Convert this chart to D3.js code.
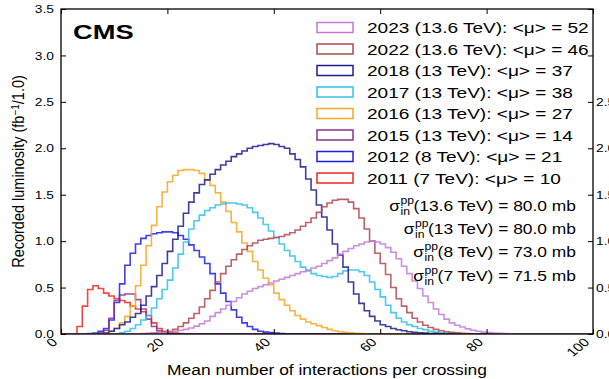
<!DOCTYPE html>
<html>
<head>
<meta charset="utf-8">
<script src="https://cdn.jsdelivr.net/npm/d3@7"></script>
<style>
    body { margin: 0; background: #fff; }
    text { font-family: "Liberation Sans", Arial, Helvetica, sans-serif; fill: #000; }
</style>
</head>
<body>
<div id="chart"></div>
<script>
// legend labels, colours and first non-empty bin of every year
const labels = [
    "2023 (13.6 TeV): <μ> = 52",
    "2022 (13.6 TeV): <μ> = 46",
    "2018 (13 TeV): <μ> = 37",
    "2017 (13 TeV): <μ> = 38",
    "2016 (13 TeV): <μ> = 27",
    "2015 (13 TeV): <μ> = 14",
    "2012 (8 TeV): <μ> = 21",
    "2011 (7 TeV): <μ> = 10"
];
const colors = ["#c27ad8", "#b2474c", "#1c1c8e", "#2ec0ec", "#f6a623", "#8a2f8e", "#1d1de6", "#f22424"];
const firstBin = [14, 15, 7, 11, 8, 7, 5, 3];

// recorded luminosity per unit of pileup (fb^-1 / 1.0), one value per bin
const lumi2023 = [0.002, 0.004, 0.006, 0.009, 0.013, 0.018, 0.024, 0.03, 0.04, 0.05,
    0.065, 0.085, 0.11, 0.14, 0.19, 0.23, 0.27, 0.31, 0.35, 0.39,
    0.43, 0.46, 0.49, 0.51, 0.53, 0.55, 0.57, 0.59, 0.61, 0.63,
    0.65, 0.67, 0.69, 0.71, 0.73, 0.76, 0.79, 0.82, 0.86, 0.89,
    0.92, 0.95, 0.97, 0.99, 1.0, 0.99, 0.97, 0.93, 0.88, 0.81,
    0.73, 0.65, 0.57, 0.49, 0.41, 0.34, 0.27, 0.21, 0.16, 0.12,
    0.095, 0.075, 0.055, 0.04, 0.03, 0.02, 0.015, 0.01, 0.007, 0.005,
    0.003, 0.002];
const lumi2022 = [0.003, 0.006, 0.01, 0.015, 0.02, 0.03, 0.05, 0.08, 0.12, 0.17,
    0.22, 0.29, 0.38, 0.47, 0.56, 0.65, 0.73, 0.80, 0.86, 0.91,
    0.95, 0.98, 1.01, 1.02, 1.03, 1.04, 1.05, 1.07, 1.09, 1.12,
    1.16, 1.20, 1.25, 1.31, 1.37, 1.41, 1.44, 1.45, 1.45, 1.42,
    1.35, 1.25, 1.13, 1.00, 0.87, 0.76, 0.64, 0.50, 0.38, 0.30,
    0.23, 0.17, 0.13, 0.095, 0.07, 0.05, 0.035, 0.025, 0.017, 0.012,
    0.008, 0.005, 0.003];
const lumi2018 = [0.005, 0.01, 0.03, 0.06, 0.10, 0.13, 0.18, 0.22, 0.31, 0.41,
    0.51, 0.63, 0.76, 0.89, 1.02, 1.16, 1.30, 1.42, 1.52, 1.61,
    1.66, 1.72, 1.77, 1.82, 1.86, 1.91, 1.94, 1.97, 2.00, 2.02,
    2.03, 2.04, 2.05, 2.04, 2.02, 2.00, 1.94, 1.88, 1.80, 1.67,
    1.55, 1.39, 1.26, 1.12, 0.97, 0.85, 0.72, 0.56, 0.43, 0.33,
    0.25, 0.19, 0.14, 0.10, 0.08, 0.06, 0.045, 0.035, 0.025, 0.018,
    0.013, 0.009, 0.006, 0.004, 0.002];
const lumi2017 = [0.015, 0.03, 0.06, 0.10, 0.15, 0.20, 0.28, 0.38, 0.48, 0.58,
    0.71, 0.86, 0.99, 1.13, 1.22, 1.28, 1.33, 1.36, 1.39, 1.40,
    1.41, 1.41, 1.40, 1.39, 1.36, 1.31, 1.25, 1.18, 1.11, 1.04,
    0.97, 0.90, 0.84, 0.78, 0.72, 0.68, 0.65, 0.63, 0.62, 0.61,
    0.62, 0.65, 0.68, 0.69, 0.69, 0.67, 0.63, 0.56, 0.48, 0.40,
    0.31, 0.23, 0.17, 0.13, 0.10, 0.08, 0.06, 0.045, 0.03, 0.02,
    0.013, 0.008, 0.005, 0.003];
const lumi2016 = [0.01, 0.03, 0.06, 0.12, 0.19, 0.30, 0.52, 0.74, 0.95, 1.17,
    1.37, 1.53, 1.64, 1.71, 1.76, 1.77, 1.77, 1.76, 1.73, 1.66,
    1.60, 1.52, 1.42, 1.32, 1.20, 1.10, 0.98, 0.89, 0.78, 0.69,
    0.60, 0.53, 0.44, 0.37, 0.31, 0.25, 0.20, 0.16, 0.13, 0.11,
    0.09, 0.07, 0.05, 0.035, 0.025, 0.018, 0.012, 0.008, 0.005, 0.003];
const lumi2015 = [0.01, 0.04, 0.17, 0.36, 0.42, 0.43, 0.43, 0.37, 0.27, 0.16,
    0.08, 0.035, 0.015, 0.007, 0.003];
const lumi2012 = [0.005, 0.01, 0.03, 0.06, 0.15, 0.34, 0.54, 0.74, 0.87, 0.97,
    1.03, 1.06, 1.08, 1.09, 1.10, 1.10, 1.09, 1.06, 1.02, 0.96,
    0.90, 0.83, 0.76, 0.65, 0.54, 0.44, 0.35, 0.26, 0.18, 0.12,
    0.08, 0.05, 0.03, 0.02, 0.015, 0.01, 0.005];
const lumi2011 = [0.08, 0.30, 0.48, 0.52, 0.49, 0.44, 0.41, 0.38, 0.36, 0.34,
    0.30, 0.27, 0.24, 0.20, 0.12, 0.06, 0.03, 0.015, 0.01, 0.005];

const series = [lumi2023, lumi2022, lumi2018, lumi2017, lumi2016, lumi2015, lumi2012, lumi2011];

const xTicks = [0, 20, 40, 60, 80, 100];
const yTicks = [0, 0.5, 1.0, 1.5, 2.0, 2.5, 3.0, 3.5];
const rightTicks = [0, 0.5, 1.0, 1.5, 2.0, 2.5];
const xsecLabels = ["(13.6 TeV) = 80.0 mb", "(13 TeV) = 80.0 mb", "(8 TeV) = 73.0 mb", "(7 TeV) = 71.5 mb"];

const width = 609, height = 379;
const plotL = 61, plotR = 593, plotT = 9, plotB = 334;
const nBins = 100;

const svg = d3.select("#chart").append("svg")
    .attr("width", width)
    .attr("height", height);

const x = d3.scaleLinear().domain([0, 100]).range([plotL, plotR]);
const y = d3.scaleLinear().domain([0, 3.5]).range([plotB, plotT]);

svg.append("clipPath").attr("id", "plot")
    .append("rect")
    .attr("x", plotL).attr("y", plotT - 1)
    .attr("width", plotR - plotL).attr("height", plotB - plotT + 1);

// histograms as step lines over the full 0-100 range
const line = d3.line()
    .x(function (d) { return x(d[0]); })
    .y(function (d) { return y(d[1]); });

function steps(values, first) {
    const pts = [];
    for (let k = 0; k < nBins; k++) {
        const i = k - first;
        const v = (i >= 0 && i < values.length) ? values[i] : 0;
        pts.push([k, v], [k + 1, v]);
    }
    return pts;
}

const gHist = svg.append("g").attr("clip-path", "url(#plot)");
for (let s = series.length - 1; s >= 0; s--) {
    gHist.append("path")
        .attr("d", line(steps(series[s], firstBin[s])))
        .attr("fill", "none")
        .attr("stroke", colors[s])
        .attr("stroke-width", 1.6)
        .attr("stroke-opacity", 0.85);
}

// axes, ticks pointing inwards
const tickSx = 1.2;

const xAxis = svg.append("g")
    .attr("transform", "translate(0," + plotB + ")")
    .call(d3.axisBottom(x).tickValues(xTicks).tickSizeInner(-5).tickSizeOuter(0));
xAxis.selectAll("text")
    .attr("x", null).attr("y", null).attr("dy", null)
    .attr("text-anchor", "end")
    .attr("font-size", 12)
    .attr("transform", "translate(-3,9) scale(1.25,1) rotate(-45)");

svg.append("g")
    .attr("transform", "translate(0," + plotT + ")")
    .call(d3.axisTop(x).tickValues(xTicks).tickSizeInner(-5).tickSizeOuter(0).tickFormat(""));

const yAxis = svg.append("g")
    .attr("transform", "translate(" + plotL + ",0)")
    .call(d3.axisLeft(y).tickValues(yTicks).tickSizeInner(-5).tickSizeOuter(0)
        .tickFormat(d3.format(".1f")));
yAxis.selectAll("text")
    .attr("x", null)
    .attr("font-size", 11.5)
    .attr("transform", "translate(-7,0) scale(" + tickSx + ",1)");

const rAxis = svg.append("g")
    .attr("transform", "translate(" + plotR + ",0)")
    .call(d3.axisRight(y).tickValues(yTicks).tickSizeInner(-5).tickSizeOuter(0)
        .tickFormat(function (d) { return rightTicks.includes(d) ? d3.format(".1f")(d) : ""; }));
rAxis.selectAll("text")
    .attr("x", null)
    .attr("font-size", 11.5)
    .attr("transform", "translate(3,0) scale(" + tickSx + ",1)");

svg.selectAll(".domain").remove();
svg.selectAll(".tick line").attr("stroke", "#000").attr("stroke-width", 1);

svg.append("rect")
    .attr("x", plotL).attr("y", plotT)
    .attr("width", plotR - plotL).attr("height", plotB - plotT)
    .attr("fill", "none")
    .attr("stroke", "#000")
    .attr("stroke-width", 1.3);

// axis titles
svg.append("text")
    .attr("text-anchor", "middle")
    .attr("font-size", 14.5)
    .attr("transform", "translate(327,375) scale(1.2,1)")
    .text("Mean number of interactions per crossing");

const yTitle = svg.append("text")
    .attr("text-anchor", "middle")
    .attr("font-size", 14.5)
    .attr("transform", "translate(24," + ((plotT + plotB) / 2) + ") scale(1.1,1) rotate(-90)");
yTitle.append("tspan").text("Recorded luminosity (fb");
yTitle.append("tspan").attr("font-size", 10).attr("dy", -5).text("−1");
yTitle.append("tspan").attr("dy", 5).text("/1.0)");

// CMS label
svg.append("text")
    .attr("font-size", 19.5)
    .attr("font-weight", "bold")
    .attr("transform", "translate(73,39) scale(1.4,1)")
    .text("CMS");

// legend
const legSx = 1.36;
const legend = svg.append("g").selectAll("g")
    .data(labels)
    .enter().append("g")
    .attr("transform", function (d, i) { return "translate(0," + (27.5 + i * 21.5) + ")"; });

legend.append("rect")
    .attr("x", 317).attr("y", -5)
    .attr("width", 36).attr("height", 10)
    .attr("fill", "none")
    .attr("stroke", function (d, i) { return colors[i]; })
    .attr("stroke-width", 1.5);

legend.append("text")
    .attr("font-size", 14)
    .attr("transform", "translate(367,5.5) scale(" + legSx + ",1)")
    .text(function (d) { return d; });

// inelastic cross sections
const xsSx = 1.16;
xsecLabels.forEach(function (t, i) {
    const yb = 211 + i * 23.2;
    const main = svg.append("text")
        .attr("text-anchor", "end")
        .attr("font-size", 15)
        .attr("transform", "translate(576," + yb + ") scale(" + xsSx + ",1)")
        .text(t);
    const x0 = 576 - main.node().getComputedTextLength() * xsSx;
    const blockW = 13;
    svg.append("text")
        .attr("font-size", 10.5)
        .attr("transform", "translate(" + (x0 - blockW) + "," + (yb + 4) + ") scale(" + xsSx + ",1)")
        .text("in");
    svg.append("text")
        .attr("font-size", 10.5)
        .attr("transform", "translate(" + (x0 - blockW) + "," + (yb - 7) + ") scale(" + xsSx + ",1)")
        .text("pp");
    svg.append("text")
        .attr("text-anchor", "end")
        .attr("font-size", 15)
        .attr("transform", "translate(" + (x0 - blockW - 0.5) + "," + yb + ") scale(" + xsSx + ",1)")
        .text("σ");
});
</script>
</body>
</html>
